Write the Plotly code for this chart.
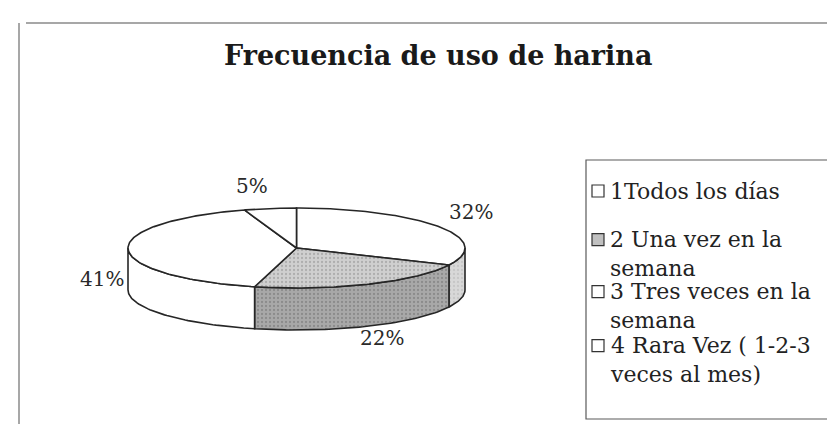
import numpy as np
import plotly.graph_objects as go

# ---------------- data ----------------
title = "Frecuencia de uso de harina"
categories = ["1Todos los días", "2 Una vez en la semana",
              "3 Tres veces en la semana", "4 Rara Vez ( 1-2-3 veces al mes)"]
legend_lines = [["1Todos los días"],
                ["2 Una vez en la", "semana"],
                ["3 Tres veces en la", "semana"],
                ["4 Rara Vez ( 1-2-3", "veces al mes)"]]
values = [32, 22, 41, 5]

# ---------------- style ----------------
W, H = 835, 424
CX, CY, RX, RY, DEPTH = 288.5, 240, 168.5, 40, 42
top_colors = ["#ffffff", "#cfcfcf", "#ffffff", "#ffffff"]
side_colors = ["#d8d8d8", "#a8a8a8", "#ffffff", "#ffffff"]
dot_colors = [None, "#8c8c8c", None, None]
side_dot_colors = ["#b4b4b4", "#6e6e6e", None, None]
legend_sq_colors = ["#ffffff", "#c0c0c0", "#ffffff", "#ffffff"]
EDGE = "#262626"
FONT = "DejaVu Serif"
label_shift = [(8, -1), (-10, -2), (-2, -12), (-18, -8)]   # (right, down) in px
legend_mid_y = [183, 246, 298, 352]
LEGEND_FONT = 22
LINE_H = 1.3 * LEGEND_FONT

fig = go.Figure()

def pt(a, dy=0.0):
    r = np.radians(a)
    return CX + RX * np.sin(r), CY - RY * np.cos(r) + dy

def pattern(bg, fg):
    if fg is None:
        return None
    return dict(shape=".", bgcolor=bg, fgcolor=fg, size=4, solidity=0.25)

total = sum(values)
starts = np.cumsum([0] + values[:-1]) / total * 360
ends = np.cumsum(values) / total * 360

# side faces (front half 90..270 degrees)
for i, (a0, a1) in enumerate(zip(starts, ends)):
    s, e = max(a0, 90), min(a1, 270)
    if e <= s:
        continue
    ang = np.linspace(s, e, 60)
    xt, yt = pt(ang)
    xb, yb = pt(ang[::-1], DEPTH)
    xs = np.concatenate([xt, xb, xt[:1]])
    ys = np.concatenate([yt, yb, yt[:1]])
    kw = {}
    pat = pattern(side_colors[i], side_dot_colors[i])
    if pat:
        kw["fillpattern"] = pat
    fig.add_trace(go.Scatter(x=xs, y=ys, mode="lines", fill="toself",
                             fillcolor=side_colors[i],
                             line=dict(color=EDGE, width=1.6),
                             hoverinfo="skip", showlegend=False, **kw))

# top faces
for i, (a0, a1) in enumerate(zip(starts, ends)):
    ang = np.linspace(a0, a1, 120)
    xa, ya = pt(ang)
    xs = np.concatenate([[CX], xa, [CX]])
    ys = np.concatenate([[CY], ya, [CY]])
    kw = {}
    pat = pattern(top_colors[i], dot_colors[i])
    if pat:
        kw["fillpattern"] = pat
    fig.add_trace(go.Scatter(x=xs, y=ys, mode="lines", fill="toself",
                             fillcolor=top_colors[i],
                             line=dict(color=EDGE, width=1.6),
                             name=categories[i], hoverinfo="name",
                             showlegend=False, **kw))

annotations = []
# percentage labels
for i, (a0, a1) in enumerate(zip(starts, ends)):
    mid = (a0 + a1) / 2
    sn, cs = np.sin(np.radians(mid)), np.cos(np.radians(mid))
    x, y = pt(mid, DEPTH if cs < 0 else 0)
    xa = "left" if sn > 0.3 else ("right" if sn < -0.3 else "center")
    ya = "bottom" if cs > 0.3 else ("top" if cs < -0.3 else "middle")
    annotations.append(dict(x=x, y=y, xref="x", yref="y", text=f"{values[i]}%",
                            showarrow=False, xanchor=xa, yanchor=ya,
                            xshift=label_shift[i][0], yshift=-label_shift[i][1],
                            font=dict(family=FONT, size=20, color="#2a2a2a")))

# title
annotations.append(dict(x=430, y=47, xref="x", yref="y", text=f"<b>{title}</b>",
                        showarrow=False, xanchor="center", yanchor="middle",
                        font=dict(family=FONT, size=27, color="#1a1a1a")))

shapes = [
    dict(type="line", x0=18, y0=15, x1=835, y1=15, xref="x", yref="y",
         line=dict(color="#8a8a8a", width=1.5)),
    dict(type="line", x0=11, y0=15, x1=11, y1=424, xref="x", yref="y",
         line=dict(color="#8a8a8a", width=1.5)),
    dict(type="rect", x0=578, y0=152, x1=845, y1=411, xref="x", yref="y",
         line=dict(color="#5a5a5a", width=1.2), fillcolor="rgba(0,0,0,0)"),
]

# legend
for i, lines in enumerate(legend_lines):
    ym = legend_mid_y[i]
    y_first = ym - (len(lines) - 1) * LINE_H / 2
    shapes.append(dict(type="rect", x0=584, y0=y_first - 6, x1=596, y1=y_first + 6,
                       xref="x", yref="y", line=dict(color="#333", width=1.2),
                       fillcolor=legend_sq_colors[i]))
    annotations.append(dict(x=600, y=ym, xref="x", yref="y",
                            text="<br>".join(lines), showarrow=False,
                            xanchor="left", yanchor="middle", align="left",
                            font=dict(family=FONT, size=LEGEND_FONT, color="#222")))

fig.update_layout(
    width=W, height=H, margin=dict(l=0, r=0, t=0, b=0),
    paper_bgcolor="white", plot_bgcolor="white",
    xaxis=dict(range=[0, W], visible=False, fixedrange=True),
    yaxis=dict(range=[H, 0], visible=False, fixedrange=True),
    annotations=annotations, shapes=shapes, showlegend=False,
)
fig.write_html("out.html")
